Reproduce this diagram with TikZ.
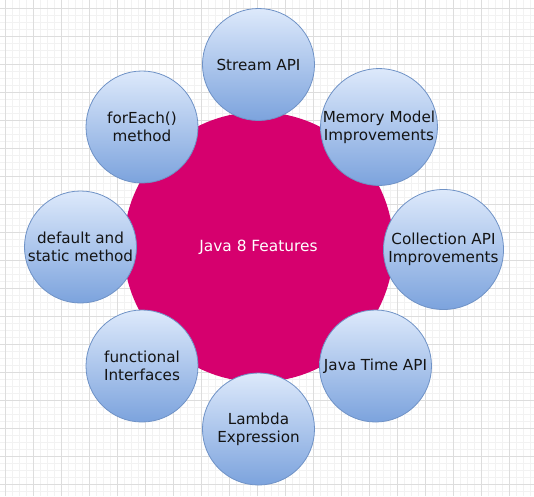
\documentclass[tikz,border=0pt]{standalone}
\usepackage{fontspec}
\setmainfont{DejaVu Sans}
\usepackage{tikz}

\definecolor{hubpink}{HTML}{D6006E}
\definecolor{bubtop}{HTML}{DDE9FB}
\definecolor{bubbot}{HTML}{7CA3DD}
\definecolor{bubline}{HTML}{6F92C6}
\definecolor{gridmin}{HTML}{F2F2F2}
\definecolor{gridmaj}{HTML}{DDDDDD}

\begin{document}
\begin{tikzpicture}[x=1pt,y=-1pt,
    feature/.style={circle,draw=bubline,line width=0.8pt,top color=bubtop,bottom color=bubbot,
      minimum size=112pt,inner sep=0pt,align=center,text=black!92,
      font=\fontsize{15.2}{18}\selectfont},
    hub/.style={circle,fill=hubpink,minimum size=270pt,text=white,
      font=\fontsize{15.4}{18}\selectfont}]
    \useasboundingbox (0,0) rectangle (534,496);
    % paper grid
    \fill[white] (0,0) rectangle (534,496);
    \foreach \x in {5,12,...,534}
      \draw[gridmin,line width=0.6pt] (\x,0)--(\x,496);
    \foreach \y in {8,15,...,496}
      \draw[gridmin,line width=0.6pt] (0,\y)--(534,\y);
    \foreach \x in {5,33,...,534}
      \draw[gridmaj,line width=0.8pt] (\x,0)--(\x,496);
    \foreach \y in {8,36,...,496}
      \draw[gridmaj,line width=0.8pt] (0,\y)--(534,\y);
    % centre
    \node[hub] (java8) at (258.5,247) {Java 8 Features};
    % features around it
    \node[feature] (stream) at (258.5,64.5) {Stream API};
    \node[feature] (memory) at (379,127) {Memory Model\\Improvements};
    \node[feature,minimum size=120pt] (collection) at (443.5,249.5) {Collection API\\Improvements};
    \node[feature] (time) at (375.5,366) {Java Time API};
    \node[feature] (lambda) at (258.5,429) {Lambda\\Expression};
    \node[feature] (functional) at (142,366) {functional\\Interfaces};
    \node[feature] (default) at (80.5,247) {default and\\static method};
    \node[feature] (foreach) at (142,127) {forEach()\\method};
  \end{tikzpicture}
\end{document}
